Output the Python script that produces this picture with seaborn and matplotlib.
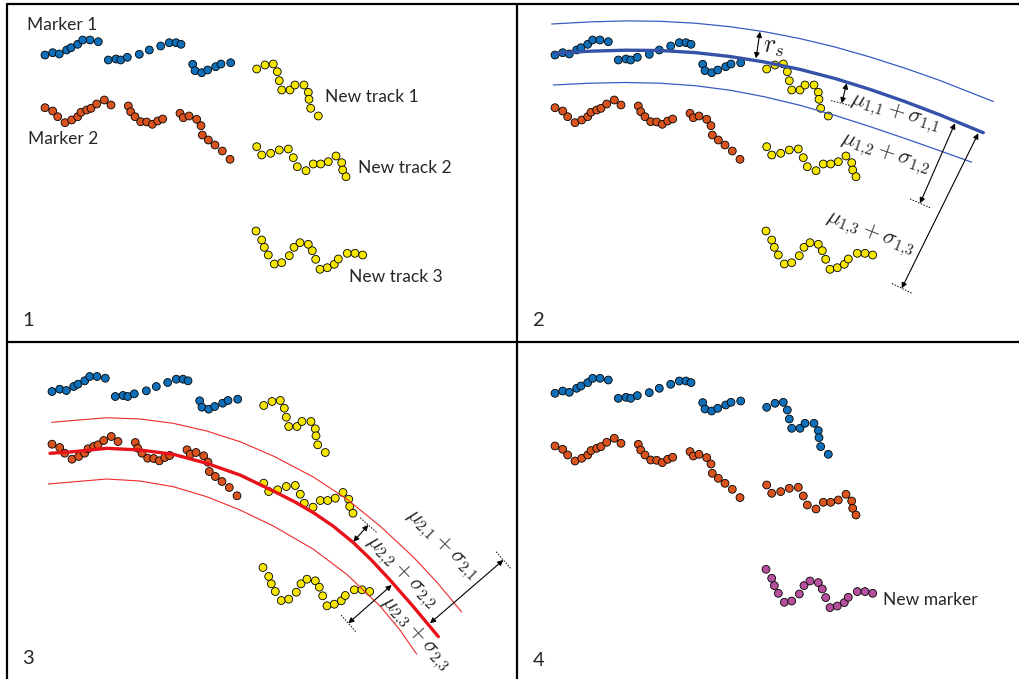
import numpy as np
import pandas as pd
import matplotlib
matplotlib.use("Agg")
import matplotlib.pyplot as plt
import seaborn as sns

m1a_x = [45, 52.7, 59.3, 66.7, 71, 77.7, 82.7, 90, 98.3]
m1a_y = [55, 52.7, 54, 50, 47.7, 44.3, 40, 40, 41.7]
m1b_x = [108.3, 116, 120.7, 127.3, 139.3, 149.3, 160.7, 169.3, 176, 181]
m1b_y = [60, 59, 60, 57.3, 54.3, 50, 46, 42.7, 42.7, 44.3]
m1c_x = [192.7, 195, 201.7, 207.7, 215.7, 221, 230.7]
m1c_y = [64.3, 70.7, 72.7, 70, 66.7, 64, 62.7]

m2a_x = [45, 52.7, 57.7, 65, 71.7, 77.7, 81, 86.7, 91, 96.7, 104.3, 111]
m2a_y = [107.7, 111, 116.7, 122.7, 120, 116.7, 112.3, 110, 108.3, 104, 100, 105]
m2b_x = [128.3, 130.7, 135, 140.7, 146.7, 152.3, 157.7, 162.7]
m2b_y = [106, 111.7, 116.7, 121.7, 122, 124.3, 121, 119]
m2c_x = [180, 183.3, 189, 196.7, 201, 202.3, 208.3, 215, 222.3, 230]
m2c_y = [113.3, 117.7, 116, 119.3, 125.7, 135, 140, 145, 151, 159.3]

t1_x = [256.7, 265, 273.3, 277.3, 279.3, 281.7, 290, 295, 304, 308.3, 309, 310.7, 318.3]
t1_y = [69, 65, 64, 71.7, 80.7, 90, 90, 85, 85, 92.3, 99.3, 108.3, 116]
t2_x = [256.7, 261.7, 270.7, 279.3, 288.3, 293.3, 297.3, 306, 313.3, 320.7, 328.3, 336, 341.7, 342.7, 346]
t2_y = [146.7, 155, 153.3, 150, 149, 157.7, 166.7, 170.7, 164, 164, 161.7, 156, 162.7, 170, 176.7]
t3_x = [256, 261.7, 264.3, 268.3, 274.3, 281.7, 289.3, 294, 300, 308.3, 312.3, 315.7, 320,
        327.3, 334.3, 338.3, 347.3, 355, 362.7]
t3_y = [231, 240, 247.3, 255, 264, 262.7, 255.7, 247.3, 242.7, 244.3, 250.7, 259.3, 269.3,
        267.7, 264.3, 259, 253.3, 253.3, 255]

# which colour each track gets in each panel
panel_names = ["1", "2", "3", "4"]
panel_dx = [0, 510, 7, 510]
panel_dy = [0, 0, 336.5, 338.3]
track_color = {
    "1": ["m1", "m1", "m1", "m2", "m2", "m2", "new", "new", "new"],
    "2": ["m1", "m1", "m1", "m2", "m2", "m2", "new", "new", "new"],
    "3": ["m1", "m1", "m1", "m2", "m2", "m2", "new", "new", "new"],
    "4": ["m1", "m1", "m1", "m2", "m2", "m2", "m1", "m2", "m3"],
}

# ---- curves (absolute pixels) ----
blue_mid_x = [555, 590, 625, 660, 695, 730, 765, 800, 835, 870, 905, 940, 983.3]
blue_mid_y = [53.3, 51.2, 50.2, 50.5, 52.6, 56.5, 62.1, 69.4, 78.5, 89.4, 101.6, 114.9, 132.7]
blue_top_x = [551.7, 590, 625, 660, 695, 730, 765, 800, 835, 870, 905, 940, 993.3]
blue_top_y = [24, 21.9, 20.9, 21.3, 23.2, 26.7, 31.8, 38.6, 47, 57, 68.2, 80.5, 101.5]
blue_bot_x = [553.3, 590, 625, 660, 695, 730, 765, 800, 835, 870, 905, 940, 971.7]
blue_bot_y = [85, 83.2, 82.5, 83.2, 85.7, 90.2, 96.9, 105.3, 115.4, 126.6, 138.5, 150.8, 162.2]

red_mid_x = [50, 73.3, 106.7, 140, 173.3, 206.7, 240, 273.3, 295, 313.3, 333, 353.3,
             371, 390, 413.3, 438.3]
red_mid_y = [453.3, 451.7, 448.3, 450, 454.3, 463.3, 475, 491, 502, 512.6, 526, 542.6,
             559.6, 580, 606.6, 636.6]
red_top_x = [51.7, 106.7, 140, 173.3, 206.7, 240, 273.3, 313.3, 346.7, 380, 413.3, 436.7, 461.7]
red_top_y = [422.3, 417.7, 419, 423.3, 431, 441.7, 456, 477, 499, 526, 557, 582, 612]
red_bot_x = [48.3, 106.7, 140, 173.3, 206.7, 240, 273.3, 313.3, 346.7, 380, 400, 416.7]
red_bot_y = [484, 479, 481, 486.7, 496.7, 510, 526, 549.2, 574.3, 606, 630, 654.2]

# ---- annotations: arrow start/end, label, label centre, rotation ----
arr_x0 = [760, 846.7, 955, 978.3, 368.3, 503.3, 391.7]
arr_y0 = [31.7, 83.3, 123.3, 133.3, 525, 560, 585]
arr_x1 = [756, 841.7, 920, 901.7, 353.3, 430, 348.3]
arr_y1 = [58.3, 103.3, 203.3, 288.3, 541.7, 623.3, 623.3]
tick_at = [None, 1, 1, 1, 0, 0, 1]
lab_txt = [r"$r_s$", r"$\mu_{1{,}1}+\sigma_{1{,}1}$", r"$\mu_{1{,}2}+\sigma_{1{,}2}$",
           r"$\mu_{1{,}3}+\sigma_{1{,}3}$", r"$\mu_{2{,}2}+\sigma_{2{,}2}$",
           r"$\mu_{2{,}1}+\sigma_{2{,}1}$", r"$\mu_{2{,}3}+\sigma_{2{,}3}$"]
lab_x = [774, 895, 885, 870, 401.7, 441.7, 415]
lab_y = [47, 113.3, 153.3, 233.3, 571.7, 545, 633.3]
lab_rot = [0, -17, -19, -21, -46, -44, -48]

palette = {"m1": "#0f6fb8", "m2": "#d9531e", "new": "#f7e600", "m3": "#b64f9e"}

rows = []
tracks = [(m1a_x, m1a_y), (m1b_x, m1b_y), (m1c_x, m1c_y),
          (m2a_x, m2a_y), (m2b_x, m2b_y), (m2c_x, m2c_y),
          (t1_x, t1_y), (t2_x, t2_y), (t3_x, t3_y)]
for p, dx, dy in zip(panel_names, panel_dx, panel_dy):
    for (tx, ty), c in zip(tracks, track_color[p]):
        for x, y in zip(tx, ty):
            rows.append({"x": x + dx, "y": y + dy, "kind": c, "panel": p})
df = pd.DataFrame(rows)

sns.set_theme(style="white")
plt.rcParams["font.family"] = ["Lato", "DejaVu Sans"]
plt.rcParams["mathtext.fontset"] = "cm"

fig = plt.figure(figsize=(10.19, 6.79), dpi=100)
ax = fig.add_axes([0, 0, 1, 1])
ax.set_xlim(0, 1019)
ax.set_ylim(679, 0)
ax.axis("off")

# panel frame
ax.plot([7, 1019], [4, 4], color="black", lw=1.6)
ax.plot([7, 7], [4, 679], color="black", lw=1.6)
ax.plot([517, 517], [4, 679], color="black", lw=1.6)
ax.plot([7, 1019], [342, 342], color="black", lw=1.6)

sns.scatterplot(data=df, x="x", y="y", hue="kind", palette=palette, s=32,
                edgecolor="black", linewidth=0.6, legend=False, ax=ax, zorder=3)

line_kw = dict(zorder=4, solid_joinstyle="round")
ax.plot(blue_mid_x, blue_mid_y, color="#3552a8", lw=2.4, **line_kw)
ax.plot(blue_top_x, blue_top_y, color="#3a5cc0", lw=0.9, **line_kw)
ax.plot(blue_bot_x, blue_bot_y, color="#3a5cc0", lw=0.9, **line_kw)
ax.plot(red_mid_x, red_mid_y, color="#e8121a", lw=2.4, **line_kw)
ax.plot(red_top_x, red_top_y, color="#ee2a2a", lw=0.8, **line_kw)
ax.plot(red_bot_x, red_bot_y, color="#ee2a2a", lw=0.8, **line_kw)

for x0, y0, x1, y1, t in zip(arr_x0, arr_y0, arr_x1, arr_y1, tick_at):
    ax.annotate("", xy=(x1, y1), xytext=(x0, y0),
                arrowprops=dict(arrowstyle="<|-|>", color="black", lw=0.8,
                                mutation_scale=8, shrinkA=0, shrinkB=0), zorder=5)
    if t is not None:
        px, py = (x0, y0) if t == 0 else (x1, y1)
        d = np.array([x1 - x0, y1 - y0])
        d = d / np.hypot(*d)
        n = np.array([-d[1], d[0]]) * 11
        ax.plot([px - n[0], px + n[0]], [py - n[1], py + n[1]],
                color="black", lw=0.7, ls=(0, (1.5, 1.5)), zorder=5)

for s, x, y, r in zip(lab_txt, lab_x, lab_y, lab_rot):
    fs = 19 if s == r"$r_s$" else 16
    ax.text(x, y, s, fontsize=fs, rotation=r, rotation_mode="anchor",
            ha="center", va="center", zorder=6)

# plain labels
ax.text(27, 25, "Marker 1", fontsize=12.5, va="center")
ax.text(28, 139, "Marker 2", fontsize=12.5, va="center")
ax.text(325, 97, "New track 1", fontsize=12.5, va="center")
ax.text(358, 168, "New track 2", fontsize=12.5, va="center")
ax.text(349, 277, "New track 3", fontsize=12.5, va="center")
ax.text(883, 600, "New marker", fontsize=12.5, va="center")
for s, x, y in zip(["1", "2", "3", "4"], [22, 533, 22, 533], [320, 320, 659, 660]):
    ax.text(x, y, s, fontsize=14.5, va="center")

fig.savefig("out.png", dpi=100)
